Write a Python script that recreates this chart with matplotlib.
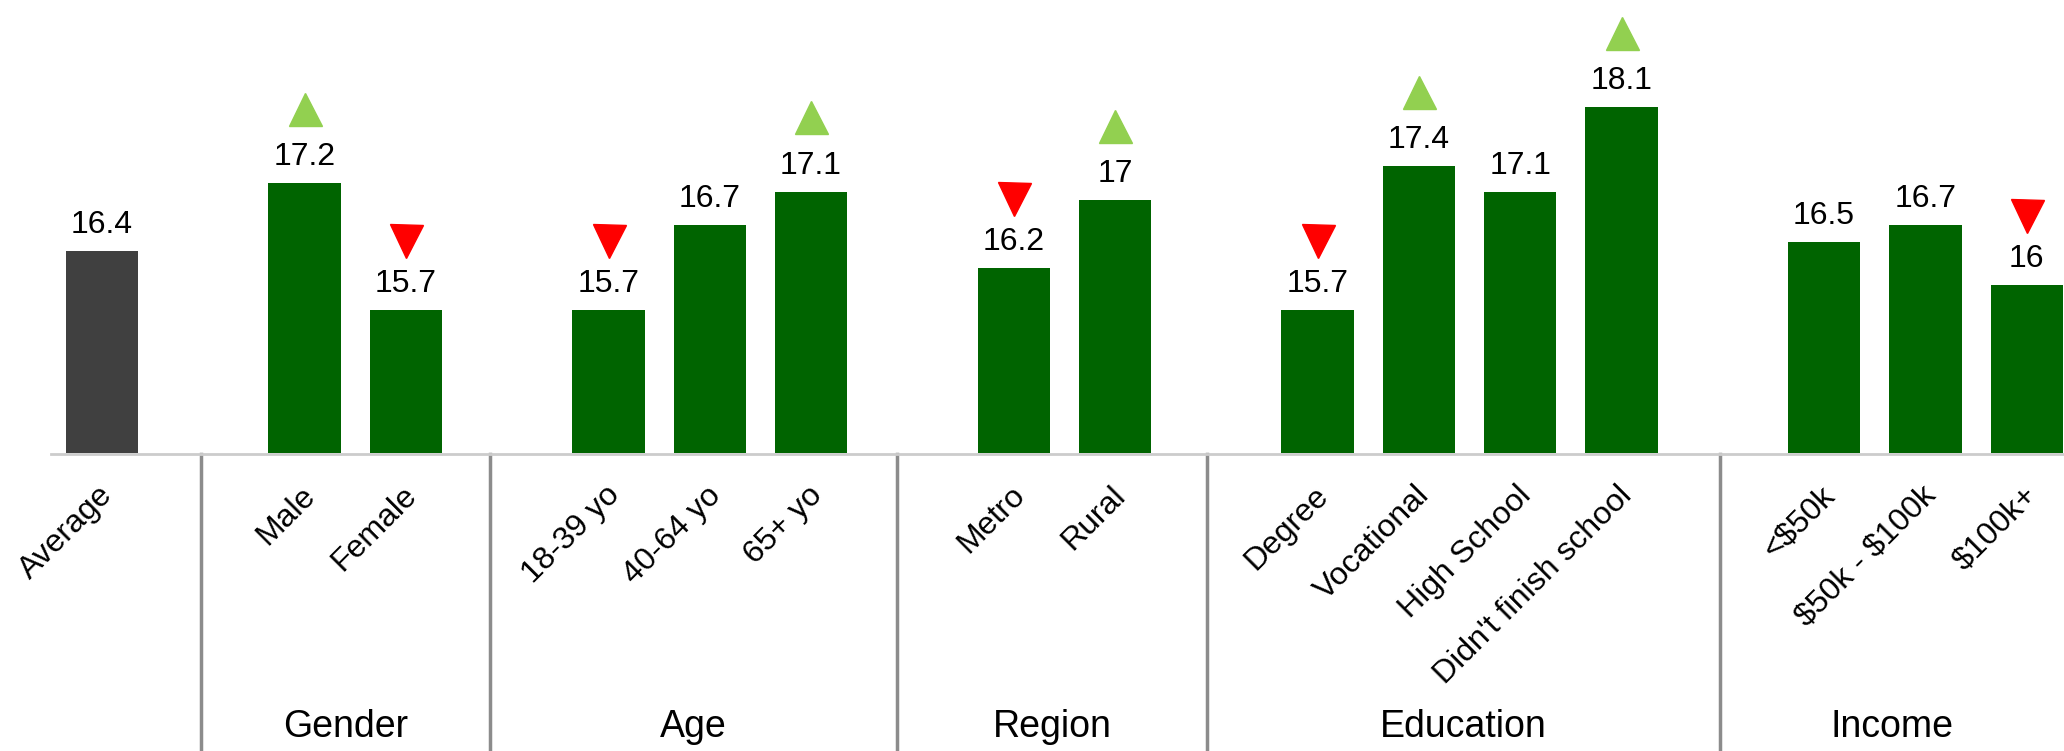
import matplotlib
matplotlib.use("Agg")
import matplotlib.pyplot as plt
from matplotlib.transforms import blended_transform_factory, ScaledTranslation

plt.rcParams['font.family'] = ['Liberation Sans', 'DejaVu Sans']
plt.rcParams['text.parse_math'] = False

# --- data ---------------------------------------------------------------
categories = ["Average", "Male", "Female", "18-39 yo", "40-64 yo", "65+ yo",
              "Metro", "Rural", "Degree", "Vocational", "High School",
              "Didn't finish school", "<$50k", "$50k - $100k", "$100k+"]
values = [16.4, 17.2, 15.7, 15.7, 16.7, 17.1, 16.2, 17.0,
          15.7, 17.4, 17.1, 18.1, 16.5, 16.7, 16.0]
trend = [None, "up", "down", "down", None, "up", "down", "up",
         "down", "up", None, "up", None, None, "down"]
groups = ["Gender", "Age", "Region", "Education", "Income"]

# --- layout -------------------------------------------------------------
slots = [0, 2, 3, 5, 6, 7, 9, 10, 12, 13, 14, 15, 17, 18, 19]
separators = [0.98, 3.83, 7.85, 10.91, 15.97]
BAR_W = 0.715
Y_MIN, Y_MAX = 14.0, 19.37
X_MIN, X_MAX = -1.007, 19.368

# each group title sits midway between its separator and the next one
bounds = separators + [X_MAX]
group_label_x = [(a + b) / 2 for a, b in zip(bounds[:-1], bounds[1:])]

GREEN = "#006400"
AVG_GREY = "#404040"
UP = "#92D050"
DOWN = "#FF0000"

W, H, DPI = 2064, 751, 100
BASE_PX = 453.5  # baseline distance from the top edge, in pixels
fig = plt.figure(figsize=(W / DPI, H / DPI), dpi=DPI)
base_frac = (H - BASE_PX) / H
ax = fig.add_axes([0, base_frac, 1, 1 - base_frac])
ax.set_xlim(X_MIN, X_MAX)
ax.set_ylim(Y_MIN, Y_MAX)

colors = [AVG_GREY] + [GREEN] * (len(values) - 1)
ax.bar(slots, [v - Y_MIN for v in values], bottom=Y_MIN, width=BAR_W,
       color=colors, linewidth=0, zorder=2)

px = 72 / DPI  # points per pixel


def lifted(dy_px):
    return ax.transData + ScaledTranslation(0, dy_px / DPI, fig.dpi_scale_trans)


for x, v, t in zip(slots, values, trend):
    ax.annotate(f"{v:g}", (x, v), xytext=(0, 18 * px),
                textcoords="offset points", ha="center", va="baseline",
                fontsize=23, color="black")
    if t == "up":
        ax.plot([x], [v], marker="^", markersize=33 * px, color=UP,
                linestyle="none", zorder=3, transform=lifted(74.5))
    elif t == "down":
        ax.plot([x], [v], marker="v", markersize=33 * px, color=DOWN,
                linestyle="none", zorder=3, transform=lifted(68.5))

# category labels, rotated under each bar
xaxis_tr = ax.get_xaxis_transform()
for x, name in zip(slots, categories):
    ax.annotate(name, (x, 0), xycoords=xaxis_tr,
                xytext=(12 * px, -43 * px), textcoords="offset points",
                ha="right", va="baseline", rotation=45,
                rotation_mode="anchor", fontsize=23, color="black",
                annotation_clip=False)

# baseline
for side in ("top", "right", "left"):
    ax.spines[side].set_visible(False)
ax.spines["bottom"].set_color("#cccccc")
ax.spines["bottom"].set_linewidth(2)
ax.spines["bottom"].set_bounds(-0.5, X_MAX)
ax.set_xticks([])
ax.set_yticks([])

# group separators, running from the baseline to the bottom edge
for s in separators:
    ax.plot([s, s], [0, -(H - BASE_PX) / BASE_PX], transform=xaxis_tr,
            color="#8c8c8c", linewidth=2.5, clip_on=False, zorder=1)

# group titles
grp_tr = blended_transform_factory(ax.transData, fig.transFigure)
for gx, g in zip(group_label_x, groups):
    ax.text(gx, (H - 737) / H, g, transform=grp_tr, ha="center",
            va="baseline", fontsize=27, color="black")

fig.savefig("out.png", dpi=DPI)
